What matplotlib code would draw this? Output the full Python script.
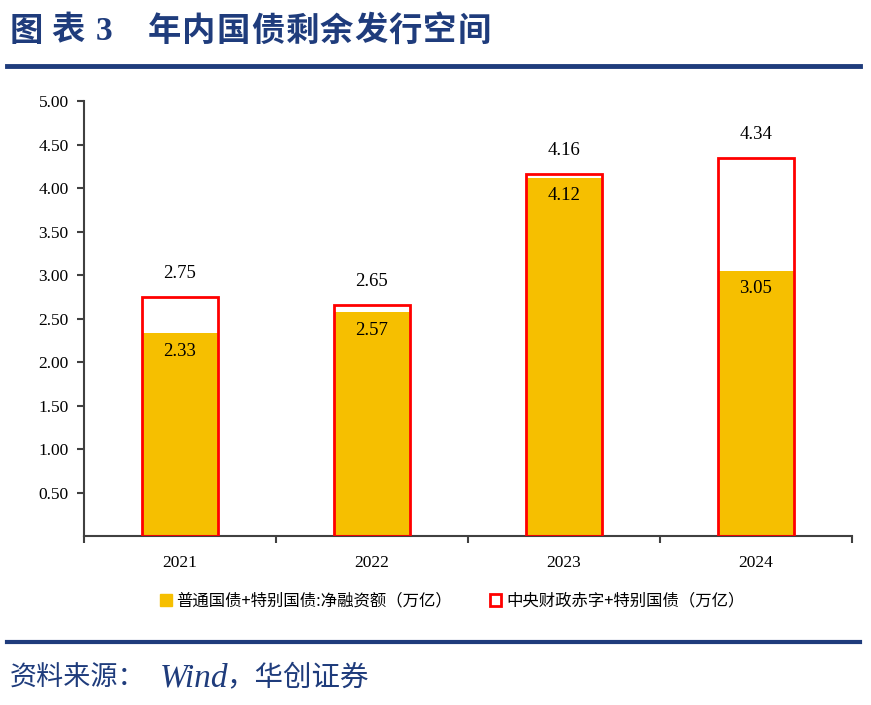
import numpy as np
import matplotlib.pyplot as plt
from matplotlib.patches import Patch
from matplotlib.lines import Line2D

# Data (万亿)
years = ["2021", "2022", "2023", "2024"]
net_financing = [2.33, 2.57, 4.12, 3.05]
deficit_total = [2.75, 2.65, 4.16, 4.34]
yticks = [0.5, 1.0, 1.5, 2.0, 2.5, 3.0, 3.5, 4.0, 4.5, 5.0]

title_head = "图表"
title_num = "3"
title_body = "年内国债剩余发行空间"
label_fin = "普通国债+特别国债:净融资额（万亿）"
label_def = "中央财政赤字+特别国债（万亿）"
source_head = "资料来源："
source_wind = "Wind"
source_tail = "，华创证券"

navy = "#1F3C7C"
yellow = "#F6BF00"
red = "#FF0000"
cjk = ["Noto Sans CJK SC", "DejaVu Sans"]
serif = "Liberation Serif"
W, H = 871, 705

fig = plt.figure(figsize=(8.71, 7.05), dpi=100)
ax = fig.add_axes([0.0964, 0.2397, 0.8817, 0.617])

x = np.arange(len(years))
w = 0.40
ax.bar(x, net_financing, width=w, color=yellow, zorder=2)
ax.bar(x, deficit_total, width=w, facecolor="none", edgecolor=red,
       linewidth=2, zorder=3)

for i in range(len(years)):
    ax.annotate(f"{deficit_total[i]:.2f}", (x[i], deficit_total[i]),
                xytext=(0, 17), textcoords="offset points", ha="center",
                va="center", fontsize=13.5, family=serif)
    ax.annotate(f"{net_financing[i]:.2f}", (x[i], net_financing[i]),
                xytext=(0, -13), textcoords="offset points", ha="center",
                va="center", fontsize=13.5, family=serif)

ax.set_xlim(-0.5, len(years) - 0.5)
ax.set_ylim(0, 5)
ax.set_yticks(yticks)
ax.set_yticklabels([f"{v:.2f}" for v in yticks], family=serif, fontsize=12.5)
ax.set_xticks(x)
ax.set_xticklabels(years, family=serif, fontsize=12.5)
ax.set_xticks(np.arange(len(years) + 1) - 0.5, minor=True)
ax.tick_params(axis="x", which="major", length=0, pad=14)
ax.tick_params(axis="x", which="minor", length=5, width=1.5, color="#404040")
ax.tick_params(axis="y", length=5, width=1.5, color="#404040", pad=6)

for s in ["top", "right"]:
    ax.spines[s].set_visible(False)
for s in ["left", "bottom"]:
    ax.spines[s].set_color("#404040")
    ax.spines[s].set_linewidth(1.5)

handles = [
    Patch(facecolor=yellow, edgecolor=yellow),
    Patch(facecolor="white", edgecolor=red, linewidth=2),
]
fig.legend(handles, [label_fin, label_def], loc="center",
           bbox_to_anchor=(0.5195, 0.147), ncol=2, frameon=False,
           prop={"family": cjk, "size": 11.8}, handlelength=0.7,
           handleheight=0.7, handletextpad=0.3, columnspacing=2.3)

# Title: characters spread out like the original
ty = 1 - 31 / H
for k, ch in enumerate(title_head):
    fig.text((10 + 41 * k) / W, ty, ch, color=navy, fontsize=24,
             fontweight="bold", family=cjk, va="center")
fig.text(96 / W, ty, title_num, color=navy, fontsize=24, fontweight="bold",
         family=serif, va="center")
for k, ch in enumerate(title_body):
    fig.text((148 + 34.4 * k) / W, ty, ch, color=navy, fontsize=24,
             fontweight="bold", family=cjk, va="center")

fig.add_artist(Line2D([7 / W, 860 / W], [1 - 66 / H, 1 - 66 / H],
                      color=navy, lw=3.5))
fig.add_artist(Line2D([7 / W, 860 / W], [1 - 642 / H, 1 - 642 / H],
                      color=navy, lw=3))

# Source line
sy = 1 - 678 / H
fig.text(10 / W, sy, source_head, color=navy, fontsize=19.5, family=cjk,
         va="center")
fig.text(160 / W, sy, source_wind, color=navy, fontsize=24, style="italic",
         family=serif, va="center")
fig.text(226 / W, sy, source_tail, color=navy, fontsize=20.5, family=cjk,
         va="center")

plt.savefig("out.png", dpi=100)
